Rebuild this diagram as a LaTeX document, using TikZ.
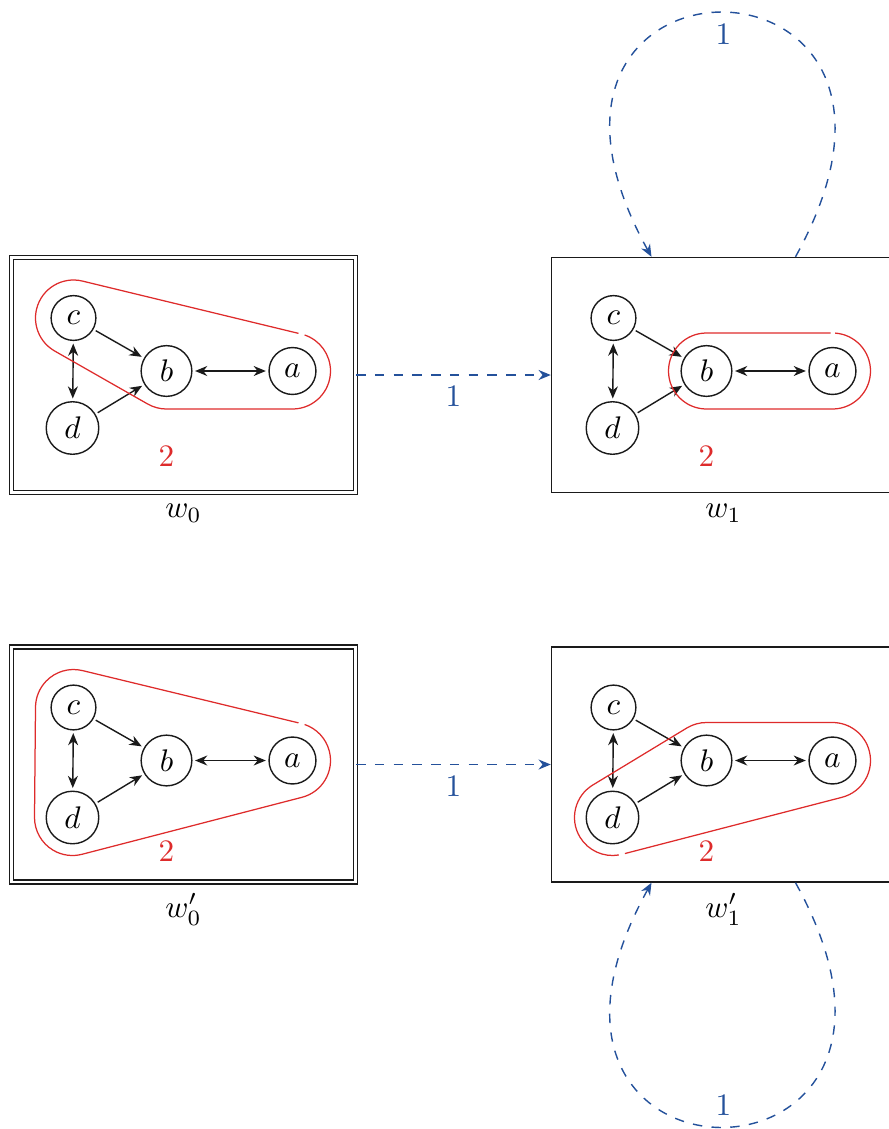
\documentclass[tikz,border=0pt]{standalone}
\usepackage{amsmath,amssymb}
\usetikzlibrary{positioning,calc,arrows.meta}
\definecolor{ink}{HTML}{1A1A1A}
\definecolor{hullred}{HTML}{DE2B2B}
\definecolor{transblue}{HTML}{24519B}

\begin{document}
\begin{tikzpicture}[
      x=0.32pt,
      y=0.32pt,
      >={Stealth[length=3.9pt,width=3.2pt]},
      world/.style={draw=ink,rectangle,line width=0.45pt,minimum width=110.1pt,minimum height=75.2pt,inner sep=0pt},
      actual/.style={world,double,double distance=0.8pt},
      vertex/.style={draw=ink,circle,line width=0.45pt,inner sep=2.9pt},
      rel/.style={ink,line width=0.45pt,shorten >=0.8pt,shorten <=0.8pt},
      hull/.style={hullred,line width=0.4pt},
      grp/.style={text=hullred},
      trans/.style={->,transblue,dashed,line width=0.45pt},
      lbl/.style={text=transblue}]
      \useasboundingbox (0,0) rectangle (889,-1129);
      % the four worlds
      \node[actual] (w0) at (183.5,-375) {};
      \node[world] (w1) at (723.5,-375) {};
      \node[actual] (w0p) at (183.5,-764.5) {};
      \node[world] (w1p) at (723.5,-764.5) {};
      \node[below=0pt of w0] (w0-name) {$w_0$};
      \node[below=0pt of w1] (w1-name) {$w_1$};
      \node[below=0pt of w0p] (w0p-name) {$w'_0$};
      \node[below=0pt of w1p] (w1p-name) {$w'_1$};
      % same graph in every world
      \foreach \w in {w0,w1,w0p,w1p}{
        \node[vertex] (\w-c) at ($(\w)+(-110,57)$) {$c$};
        \node[vertex] (\w-d) at ($(\w)+(-111,-53)$) {$d$};
        \node[vertex] (\w-b) at ($(\w)+(-17,4)$) {$b$};
        \node[vertex] (\w-a) at ($(\w)+(109,4)$) {$a$};
        \draw[rel,->] (\w-c) -- (\w-b);
        \draw[rel,->] (\w-d) -- (\w-b);
        \draw[rel,<->] (\w-c) -- (\w-d);
        \draw[rel,<->] (\w-b) -- (\w-a);
      }
      % groups of agent 2
      \draw[hull] ($(w0-a)+(76.4:38)+(166.4:3)$) -- ($(w0-c)+(76.4:38)$)
        arc[start angle=76.4,end angle=240.3,radius=38] -- ($(w0-b)+(240.3:38)$)
        arc[start angle=240.3,end angle=270,radius=38] -- ($(w0-a)+(270:38)$)
        arc[start angle=270,end angle=431.4,radius=38];
      \draw[hull] ($(w1-a)+(90:38)+(180:2)$) -- ($(w1-b)+(90:38)$)
        arc[start angle=90,end angle=270,radius=38] -- ($(w1-a)+(270:38)$)
        arc[start angle=270,end angle=446,radius=38];
      \draw[hull] ($(w0p-a)+(76.4:38)+(166.4:3)$) -- ($(w0p-c)+(76.4:38)$)
        arc[start angle=76.4,end angle=179.5,radius=38] -- ($(w0p-d)+(179.5:38)$)
        arc[start angle=179.5,end angle=284.5,radius=38] -- ($(w0p-a)+(284.5:38)$)
        arc[start angle=284.5,end angle=431.4,radius=38];
      \draw[hull] ($(w1p-d)+(284.5:38)+(14.5:3)$) -- ($(w1p-a)+(284.5:38)$)
        arc[start angle=284.5,end angle=450,radius=38] -- ($(w1p-b)+(90:38)$)
        arc[start angle=90,end angle=121.2,radius=38] -- ($(w1p-d)+(121.2:38)$)
        arc[start angle=121.2,end angle=279.5,radius=38];
      \node[grp] (w0-g) at ($(w0)+(-17,-81)$) {2};
      \node[grp] (w1-g) at ($(w1)+(-17,-81)$) {2};
      \node[grp] (w0p-g) at ($(w0p)+(-17,-87)$) {2};
      \node[grp] (w1p-g) at ($(w1p)+(-17,-87)$) {2};
      % agent 1
      \coordinate (w1-out) at ($(w1.north)+(72,0)$);
      \coordinate (w1-in) at ($(w1.north)+(-72,0)$);
      \coordinate (w1p-out) at ($(w1p.south)+(72,0)$);
      \coordinate (w1p-in) at ($(w1p.south)+(-72,0)$);
      \draw[trans] (w0) -- node[lbl,below] (t1) {1} (w1);
      \draw[trans] (w0p) -- node[lbl,below] (t2) {1} (w1p);
      \draw[trans] (w1-out) to[out=61,in=119,distance=119pt] node[lbl,below] (t3) {1} (w1-in);
      \draw[trans] (w1p-out) to[out=-61,in=-119,distance=119pt] node[lbl,above] (t4) {1} (w1p-in);
    \end{tikzpicture}
\end{document}
